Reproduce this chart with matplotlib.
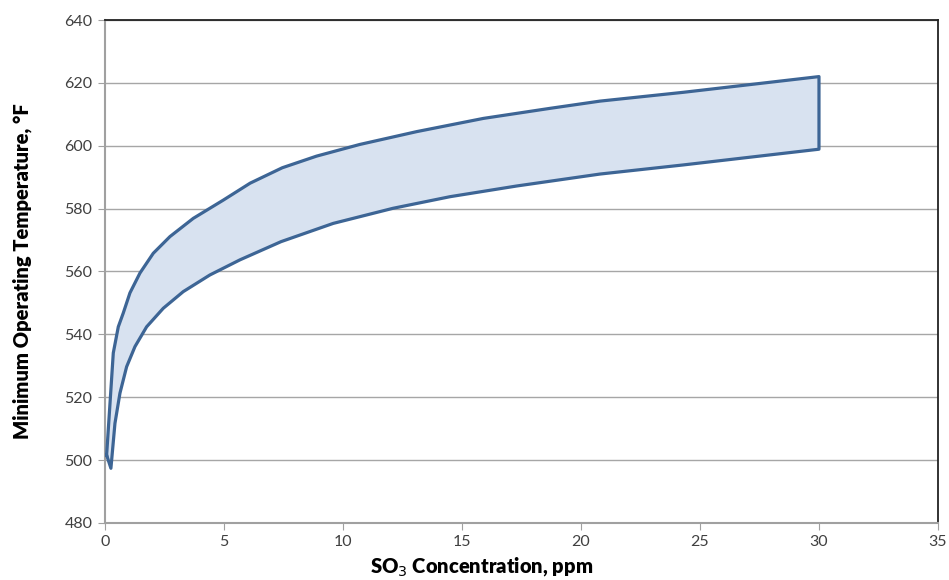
"""Minimum operating temperature band vs SO3 concentration"""

import matplotlib
matplotlib.use("Agg")
import matplotlib.pyplot as plt

# upper boundary of the band
x_upper = [0.07, 0.35, 0.56, 0.77, 1.05, 1.47, 2.03, 2.73, 3.71, 4.97, 6.1, 7.45,
           8.89, 10.7, 13.1, 15.9, 18.7, 20.8, 24.3, 30.0]
y_upper = [501.6, 534.1, 542.4, 546.8, 553.2, 559.5, 565.8, 571.1, 576.9, 582.7, 588.1, 593.0,
           596.7, 600.4, 604.5, 608.7, 611.9, 614.2, 617.0, 622.0]
# lower boundary of the band
x_lower = [0.25, 0.42, 0.63, 0.91, 1.26, 1.75, 2.45, 3.29, 4.41, 5.67, 7.4,
           9.59, 12.1, 14.5, 17.3, 20.8, 24.3, 30.0]
y_lower = [497.4, 511.7, 521.3, 529.7, 536.1, 542.4, 548.3, 553.6, 558.9, 563.7, 569.5,
           575.3, 580.1, 583.8, 587.2, 591.0, 593.9, 598.9]

xticks = [0, 5, 10, 15, 20, 25, 30, 35]
yticks = [480, 500, 520, 540, 560, 580, 600, 620, 640]


def main():
    plt.rcParams["font.family"] = ["Lato", "DejaVu Sans"]
    plt.rcParams["hatch.color"] = "#bccde6"
    plt.rcParams["hatch.linewidth"] = 0.4
    fig = plt.figure(figsize=(9.49, 5.8), dpi=100)
    ax = fig.add_axes([0.1106, 0.0983, 0.8778, 0.8672])

    # closed outline: upper curve, down the right edge, back along the lower curve
    px = x_upper + x_lower[::-1] + [x_upper[0]]
    py = y_upper + y_lower[::-1] + [y_upper[0]]
    ax.fill(px, py, facecolor="#d8e2f0", edgecolor="none", hatch="++++", zorder=2)
    ax.plot(px, py, color="#3d6595", linewidth=2.3, solid_joinstyle="round", zorder=3)

    ax.set_xlim(0, 35)
    ax.set_ylim(480, 640)
    ax.set_xticks(xticks)
    ax.set_yticks(yticks)
    ax.grid(axis="y", color="#a6a6a6", linewidth=1)
    ax.set_axisbelow(True)
    for side in ("left", "bottom"):
        ax.spines[side].set_color("#a0a0a0")
        ax.spines[side].set_linewidth(1.5)
    for side in ("top", "right"):
        ax.spines[side].set_color("#222222")
        ax.spines[side].set_linewidth(1.3)
    ax.tick_params(direction="out", length=5, color="#a0a0a0", labelsize=11.5,
                   labelcolor="#404040", pad=4)
    ax.set_xlabel("SO$_3$ Concentration, ppm", fontsize=14.5, fontweight="heavy")
    ax.xaxis.set_label_coords(0.4526, -0.064)
    ax.set_ylabel("Minimum Operating Temperature, °F", fontsize=14.5, fontweight="heavy",
                  labelpad=23)
    fig.savefig("out.png", dpi=100)


main()
